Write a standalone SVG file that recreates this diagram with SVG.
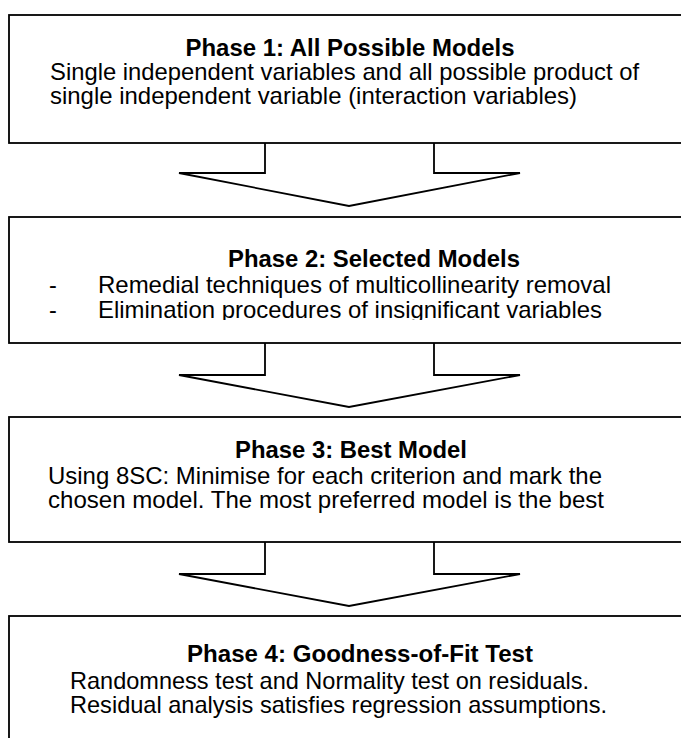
<svg xmlns="http://www.w3.org/2000/svg" width="681" height="738" viewBox="0 0 681 738">
<style>
.box{fill:#fff;stroke:#000;stroke-width:1.8}
.arr{fill:#fff;stroke:#000;stroke-width:1.8;stroke-linejoin:miter}
text{font-family:"Liberation Sans",Arial,sans-serif;font-size:23.4px;fill:#000}
.h{font-weight:bold;text-anchor:middle}
</style>
<defs>
<clipPath id="clip2"><rect x="0" y="217" width="681" height="103"/></clipPath>
</defs>
<rect width="681" height="738" fill="#fff"/>
<g id="connectors">
<path class="arr" d="M265,143 L265,173 L179,173 L349,206 L520,173 L434,173 L434,143"/>
<path class="arr" d="M265,343 L265,375 L179,375 L349,407 L520,375 L434,375 L434,343"/>
<path class="arr" d="M265,542 L265,574 L179,574 L349,606 L520,574 L434,574 L434,542"/>
</g>
<g id="phase1">
<rect class="box" x="9" y="15" width="700" height="128"/>
<text class="h" x="350" y="56" textLength="329" lengthAdjust="spacingAndGlyphs">Phase 1: All Possible Models</text>
<text x="50" y="80" textLength="589" lengthAdjust="spacingAndGlyphs">Single independent variables and all possible product of</text>
<text x="50" y="104" textLength="527" lengthAdjust="spacingAndGlyphs">single independent variable (interaction variables)</text>
</g>
<g id="phase2">
<rect class="box" x="9" y="217" width="700" height="126"/>
<text class="h" x="374" y="267" textLength="292" lengthAdjust="spacingAndGlyphs">Phase 2: Selected Models</text>
<g clip-path="url(#clip2)">
<text x="49" y="293">-</text>
<text x="98" y="293" textLength="513" lengthAdjust="spacingAndGlyphs">Remedial techniques of multicollinearity removal</text>
<text x="49" y="318">-</text>
<text x="98" y="318" textLength="504" lengthAdjust="spacingAndGlyphs">Elimination procedures of insignificant variables</text>
</g>
</g>
<g id="phase3">
<rect class="box" x="9" y="417" width="700" height="125"/>
<text class="h" x="351" y="458" textLength="232" lengthAdjust="spacingAndGlyphs">Phase 3: Best Model</text>
<text x="48" y="484" textLength="554" lengthAdjust="spacingAndGlyphs">Using 8SC: Minimise for each criterion and mark the</text>
<text x="48" y="508" textLength="556" lengthAdjust="spacingAndGlyphs">chosen model. The most preferred model is the best</text>
</g>
<g id="phase4">
<rect class="box" x="9" y="616" width="700" height="200"/>
<text class="h" x="360" y="662" textLength="346" lengthAdjust="spacingAndGlyphs">Phase 4: Goodness-of-Fit Test</text>
<text x="70" y="689" textLength="519" lengthAdjust="spacingAndGlyphs">Randomness test and Normality test on residuals.</text>
<text x="70" y="713" textLength="537" lengthAdjust="spacingAndGlyphs">Residual analysis satisfies regression assumptions.</text>
</g>
</svg>
